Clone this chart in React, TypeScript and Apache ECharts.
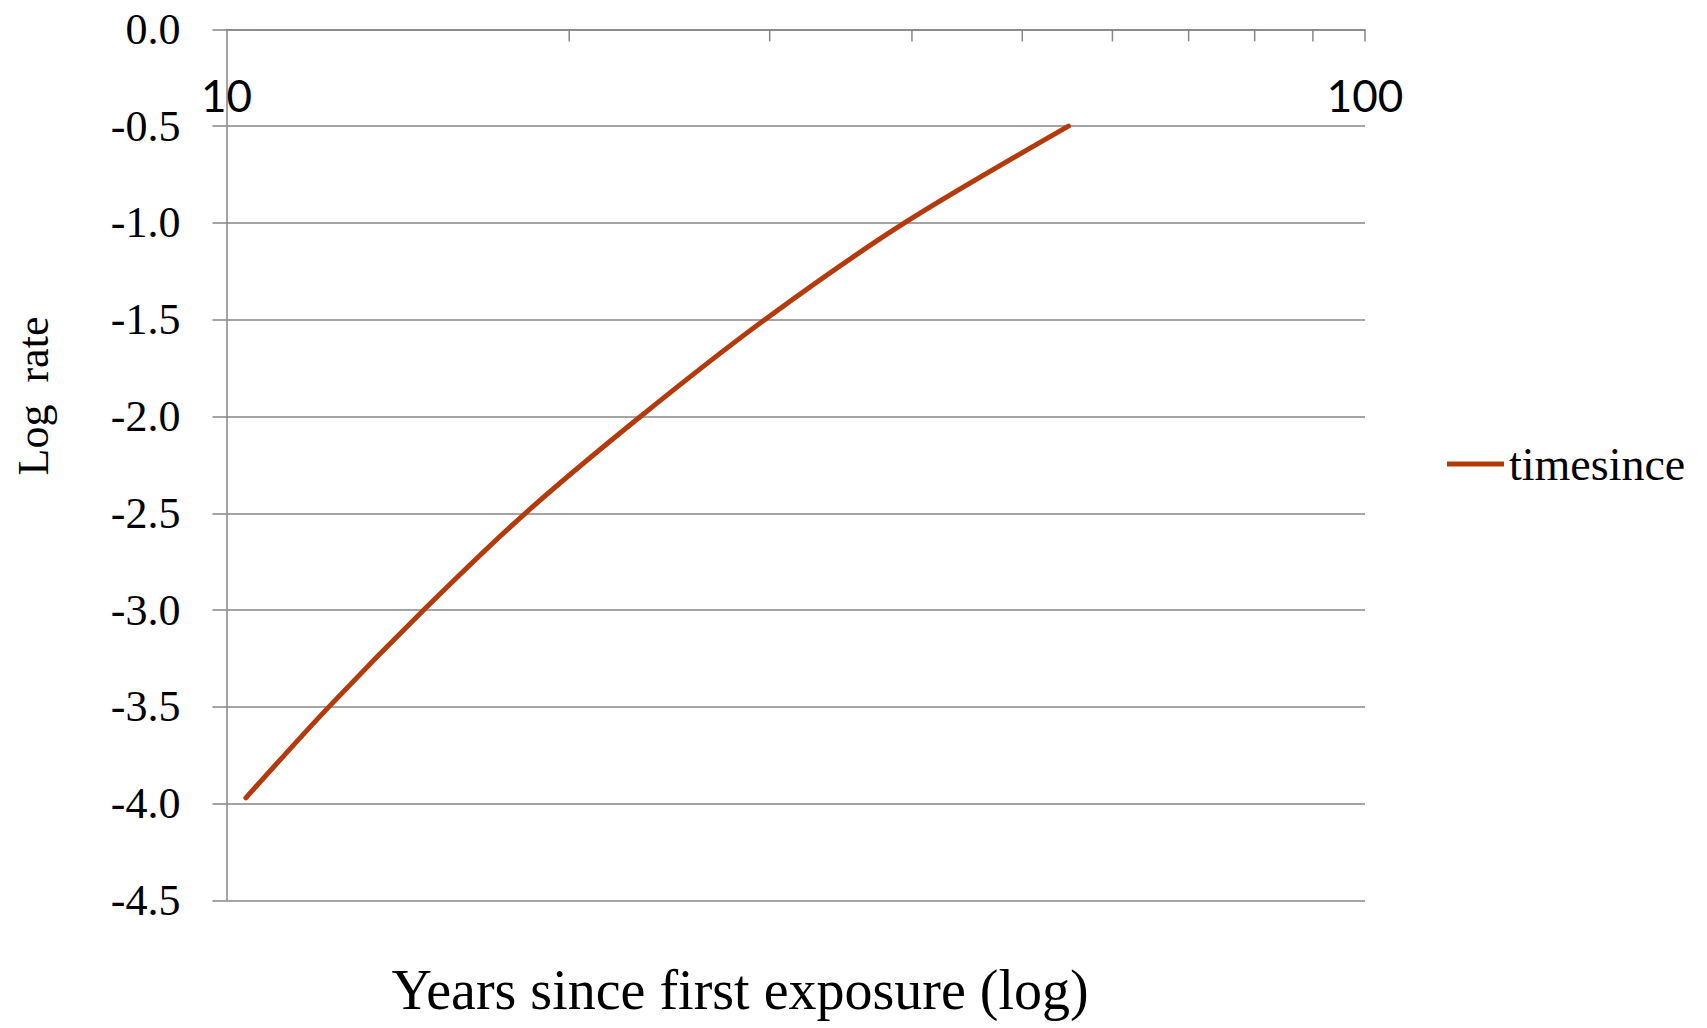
import React, { useEffect, useRef } from "react";
import * as echarts from "echarts";

const years = [10.4, 12.3, 14.9, 18.3, 23.1, 29.7, 39.4, 54.9];
const logRate = [-3.97, -3.5, -3.0, -2.5, -2.0, -1.5, -1.0, -0.5];
const minorTickValues = [20, 30, 40, 50, 60, 70, 80, 90, 100];
const seriesName = "timesince";
const xTitle = "Years since first exposure (log)";
const yTitle = "Log  rate";

export default function App() {
  const ref = useRef<HTMLDivElement>(null);
  useEffect(() => {
    if (!ref.current) return;
    const chart = echarts.init(ref.current, null, { renderer: "svg" });
    const gray = "#868686";
    const red = "#B33A0B";
    const serif = "'Liberation Serif', 'DejaVu Serif', serif";
    chart.setOption({
      animation: false,
      backgroundColor: "#ffffff",
      grid: { left: 226.5, right: 342, top: 29.4, bottom: 127.6, containLabel: false },
      xAxis: {
        type: "log",
        logBase: 10,
        min: 10,
        max: 100,
        position: "top",
        axisLine: { show: true, onZero: false, lineStyle: { color: gray, width: 1.5 } },
        axisTick: { show: false },
        splitLine: { show: false },
        minorTick: { show: false },
        axisLabel: {
          inside: true,
          margin: 44,
          fontFamily: "Lato, 'Open Sans', sans-serif",
          fontSize: 44,
          color: "#000000",
        },
      },
      yAxis: {
        type: "value",
        min: -4.5,
        max: 0,
        interval: 0.5,
        axisLine: { show: true, onZero: false, lineStyle: { color: gray, width: 1.5 } },
        axisTick: { show: true, length: 14, lineStyle: { color: gray, width: 1.5 } },
        splitLine: { show: true, lineStyle: { color: gray, width: 1.5 } },
        axisLabel: {
          margin: 46,
          fontFamily: serif,
          fontSize: 44,
          color: "#000000",
          formatter: (v: number) => v.toFixed(1),
        },
      },
      legend: {
        data: [seriesName],
        left: 1442,
        top: 436,
        orient: "vertical",
        itemWidth: 57,
        itemHeight: 14,
        icon: "path://M0,4.5 L57,4.5 L57,9.5 L0,9.5 Z",
        itemStyle: { color: red },
        textStyle: { fontFamily: serif, fontSize: 46, color: "#000000" },
      },
      graphic: [
        {
          type: "text",
          x: 740,
          y: 990,
          style: {
            text: xTitle,
            fontFamily: serif,
            fontSize: 56,
            fill: "#000000",
            textAlign: "center",
            textVerticalAlign: "middle",
          },
        },
        {
          type: "text",
          x: 33,
          y: 396,
          rotation: Math.PI / 2,
          style: {
            text: yTitle,
            fontFamily: serif,
            fontSize: 44,
            fill: "#000000",
            textAlign: "center",
            textVerticalAlign: "middle",
          },
        },
      ],
      series: [
        {
          name: seriesName,
          type: "line",
          data: years.map((x, i) => [x, logRate[i]]),
          smooth: 0.3,
          symbol: "none",
          lineStyle: { color: red, width: 5, cap: "round" },
          itemStyle: { color: red },
        },
        {
          name: "ticks",
          type: "custom",
          silent: true,
          data: minorTickValues.map((v) => [v, 0]),
          encode: { x: 0, y: 1 },
          renderItem: (params: any, api: any) => {
            const p = api.coord([api.value(0), api.value(1)]);
            return {
              type: "line",
              shape: { x1: p[0], y1: p[1], x2: p[0], y2: p[1] + 12 },
              style: { stroke: gray, lineWidth: 1.5 },
            };
          },
        },
      ],
    });
    return () => chart.dispose();
  }, []);
  return (
    <div
      ref={ref}
      style={{ position: "absolute", left: 0, top: 0, width: 1707, height: 1028 }}
    />
  );
}
